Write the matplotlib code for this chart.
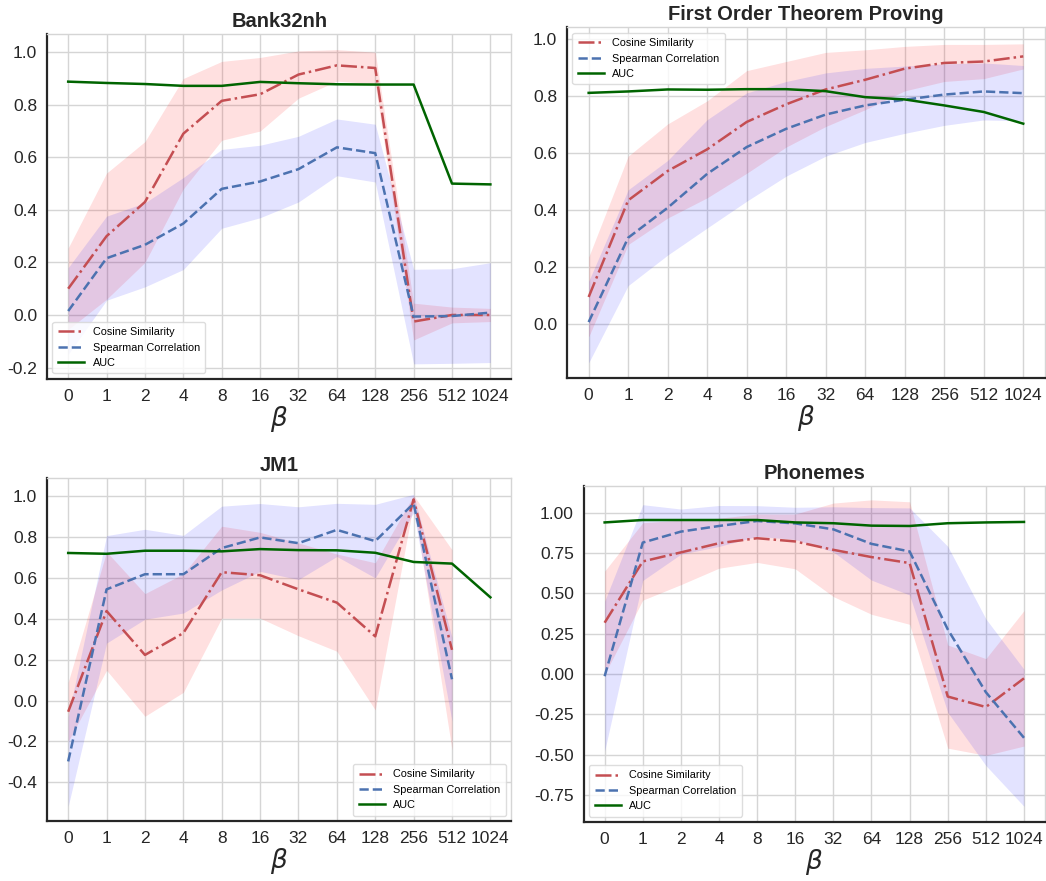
import numpy as np
import matplotlib
matplotlib.use("Agg")
import matplotlib.pyplot as plt
from matplotlib.ticker import FormatStrFormatter

plt.rcParams['font.family'] = ['Liberation Sans', 'DejaVu Sans']

betas = ["0", "1", "2", "4", "8", "16", "32", "64", "128", "256", "512", "1024"]

# Bank32nh
bank_cos = [0.10, 0.30, 0.43, 0.69, 0.815, 0.84, 0.915, 0.95, 0.94, -0.025, 0.0, 0.0]
bank_cos_std = [0.155, 0.24, 0.23, 0.21, 0.15, 0.14, 0.09, 0.06, 0.06, 0.07, 0.03, 0.025]
bank_sp = [0.015, 0.216, 0.267, 0.348, 0.48, 0.508, 0.555, 0.638, 0.616, -0.006, -0.004, 0.009]
bank_sp_std = [0.165, 0.16, 0.16, 0.175, 0.15, 0.138, 0.125, 0.108, 0.11, 0.18, 0.18, 0.19]
bank_auc = [0.888, 0.883, 0.879, 0.872, 0.872, 0.887, 0.882, 0.878, 0.877, 0.877, 0.50, 0.497]

# First Order Theorem Proving
fotp_cos = [0.094, 0.433, 0.536, 0.612, 0.708, 0.77, 0.822, 0.856, 0.895, 0.915, 0.92, 0.938]
fotp_cos_std = [0.14, 0.155, 0.165, 0.17, 0.18, 0.15, 0.13, 0.105, 0.078, 0.065, 0.06, 0.044]
fotp_sp = [0.006, 0.302, 0.407, 0.526, 0.62, 0.684, 0.734, 0.766, 0.786, 0.804, 0.815, 0.809]
fotp_sp_std = [0.143, 0.168, 0.166, 0.19, 0.19, 0.166, 0.146, 0.13, 0.118, 0.108, 0.10, 0.097]
fotp_auc = [0.81, 0.815, 0.822, 0.821, 0.823, 0.823, 0.816, 0.795, 0.787, 0.766, 0.743, 0.702]

# JM1 (no cosine / spearman at beta=1024)
jm1_cos = [-0.055, 0.438, 0.223, 0.33, 0.628, 0.613, 0.544, 0.479, 0.314, 0.984, 0.248]
jm1_cos_std = [0.145, 0.29, 0.30, 0.29, 0.225, 0.21, 0.227, 0.238, 0.36, 0.02, 0.49]
jm1_sp = [-0.298, 0.544, 0.618, 0.618, 0.746, 0.798, 0.77, 0.835, 0.78, 0.964, 0.104]
jm1_sp_std = [0.22, 0.263, 0.22, 0.19, 0.205, 0.166, 0.178, 0.13, 0.18, 0.045, 0.205]
jm1_auc = [0.722, 0.718, 0.733, 0.733, 0.73, 0.741, 0.736, 0.735, 0.723, 0.678, 0.67, 0.505]

# Phonemes
pho_cos = [0.318, 0.698, 0.754, 0.811, 0.842, 0.822, 0.77, 0.725, 0.688, -0.14, -0.205, -0.027]
pho_cos_std = [0.32, 0.24, 0.20, 0.155, 0.15, 0.17, 0.29, 0.355, 0.38, 0.32, 0.30, 0.42]
pho_sp = [-0.014, 0.815, 0.883, 0.918, 0.949, 0.934, 0.897, 0.807, 0.76, 0.277, -0.113, -0.396]
pho_sp_std = [0.465, 0.235, 0.14, 0.127, 0.095, 0.10, 0.14, 0.225, 0.27, 0.515, 0.455, 0.425]
pho_auc = [0.94, 0.955, 0.955, 0.955, 0.955, 0.94, 0.935, 0.92, 0.918, 0.935, 0.94, 0.943]

panels = [
    ("Bank32nh", bank_cos, bank_cos_std, bank_sp, bank_sp_std, bank_auc,
     [0.045, 0.570, 0.444, 0.391], (-0.243, 1.068), np.arange(-0.2, 1.01, 0.2), "%.1f", "lower left"),
    ("First Order Theorem Proving", fotp_cos, fotp_cos_std, fotp_sp, fotp_sp_std, fotp_auc,
     [0.542, 0.571, 0.457, 0.398], (-0.19, 1.04), np.arange(0.0, 1.01, 0.2), "%.1f", "upper left"),
    ("JM1", jm1_cos, jm1_cos_std, jm1_sp, jm1_sp_std, jm1_auc,
     [0.045, 0.068, 0.444, 0.389], (-0.59, 1.087), np.arange(-0.4, 1.01, 0.2), "%.1f", "lower right"),
    ("Phonemes", pho_cos, pho_cos_std, pho_sp, pho_sp_std, pho_auc,
     [0.558, 0.067, 0.441, 0.381], (-0.918, 1.164), np.arange(-0.75, 1.01, 0.25), "%.2f", "lower left"),
]

fig = plt.figure(figsize=(10.46, 8.81), dpi=100)

for title, cos, cos_std, sp, sp_std, auc, rect, ylim, yticks, fmt, loc in panels:
    ax = fig.add_axes(rect)
    x = np.arange(len(betas))
    xc = x[:len(cos)]
    cos = np.array(cos)
    cos_std = np.array(cos_std)
    sp = np.array(sp)
    sp_std = np.array(sp_std)

    ax.fill_between(xc, cos - cos_std, cos + cos_std, color="red", alpha=0.12, linewidth=0)
    ax.fill_between(xc, sp - sp_std, sp + sp_std, color="blue", alpha=0.11, linewidth=0)
    ax.plot(xc, cos, color="#c44e52", linestyle="-.", linewidth=1.8, label="Cosine Similarity")
    ax.plot(xc, sp, color="#4c72b0", linestyle="--", linewidth=1.8, label="Spearman Correlation")
    ax.plot(x, auc, color="darkgreen", linestyle="-", linewidth=1.8, label="AUC")

    ax.set_xticks(x)
    ax.set_xticklabels(betas)
    ax.set_xlim(-0.55, 11.55)
    ax.set_ylim(*ylim)
    ax.set_yticks(yticks)
    ax.yaxis.set_major_formatter(FormatStrFormatter(fmt))
    ax.tick_params(axis="both", labelsize=12.5, length=0, pad=7, colors="#262626")
    ax.grid(True, color="#d5d5d5", linewidth=1.0)
    ax.set_axisbelow(True)

    for side in ["top", "right"]:
        ax.spines[side].set_color("#d5d5d5")
        ax.spines[side].set_linewidth(1.0)
    for side in ["left", "bottom"]:
        ax.spines[side].set_color("#262626")
        ax.spines[side].set_linewidth(1.6)

    ax.set_title(title, fontsize=14.5, fontweight="bold", color="#262626", pad=5)
    ax.set_xlabel(r"$\beta$", fontsize=19, color="#262626", labelpad=0)
    ax.legend(loc=loc, fontsize=7.8, frameon=True, edgecolor="#d5d5d5",
              fancybox=True, borderpad=0.5, handlelength=2.4)

fig.savefig("out.png", dpi=100)
